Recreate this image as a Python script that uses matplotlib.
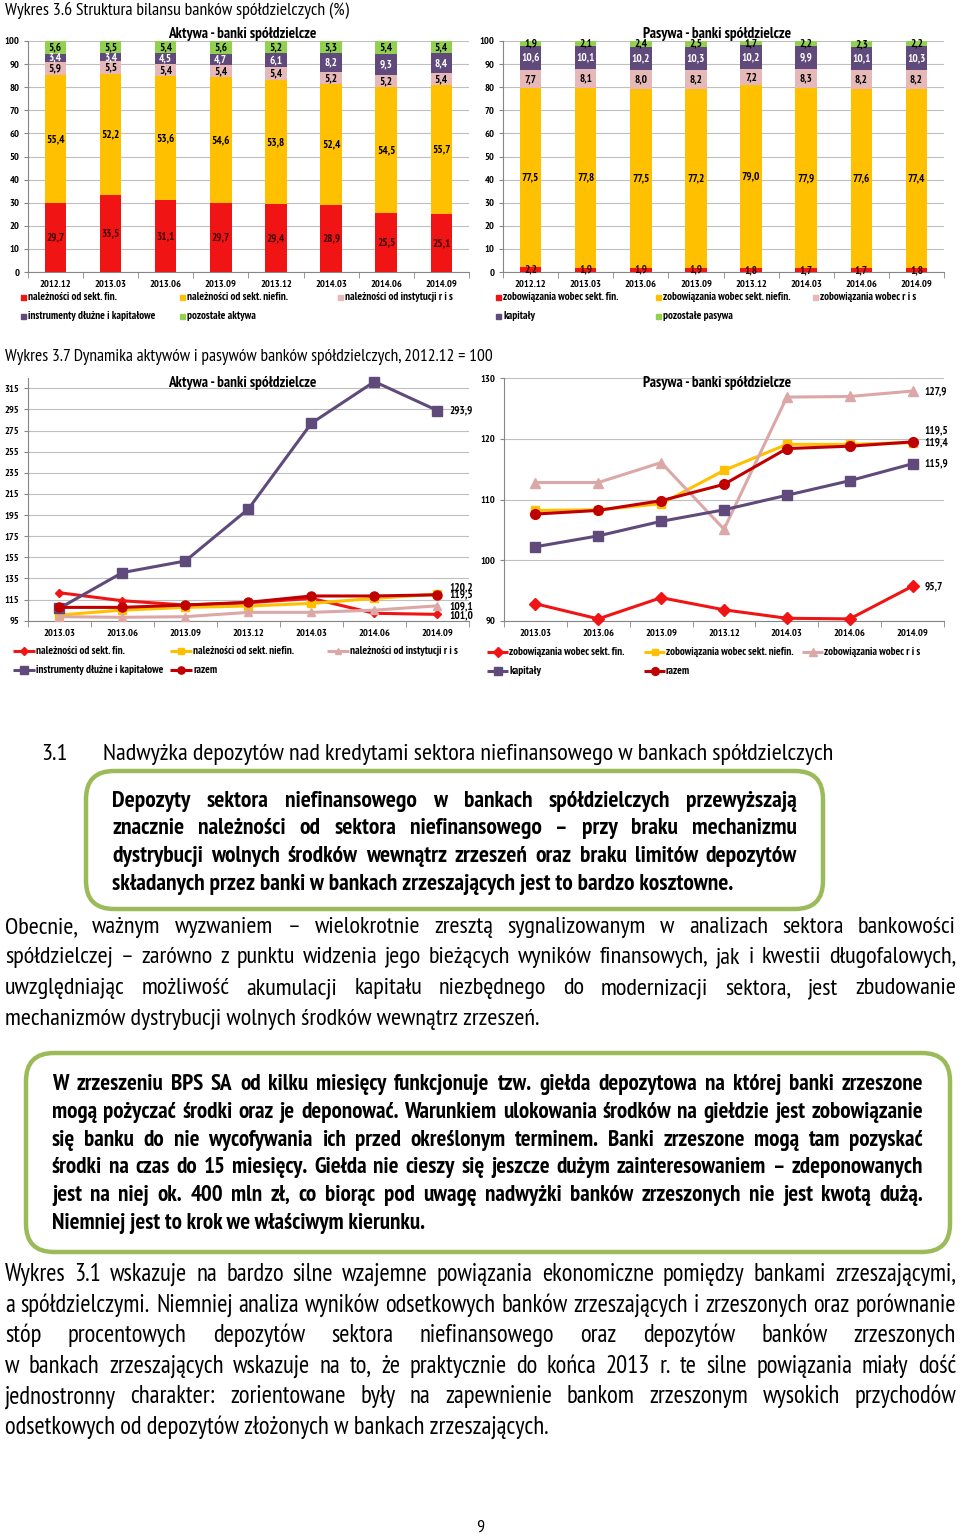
import matplotlib
matplotlib.use('Agg')
import matplotlib.pyplot as plt
from matplotlib import font_manager as fm
from matplotlib.font_manager import FontProperties
from matplotlib.patches import FancyBboxPatch, Rectangle
import numpy as np

# pick a narrow sans (the page is set in Arial Narrow) that has regular and bold faces
weights = {}
for f in fm.fontManager.ttflist:
    weights.setdefault(f.name, set()).add(f.weight)
FAM = 'Liberation Sans'
for cand in ['Liberation Sans Narrow', 'Arial Narrow', 'PT Sans Narrow', 'Roboto Condensed',
             'Archivo Narrow', 'Fira Sans Condensed', 'IBM Plex Sans Condensed']:
    w = weights.get(cand, set())
    if any(x in w for x in (400, 'normal', 'regular')) and any(x in w for x in (700, 'bold')):
        FAM = cand
        break
plt.rcParams['font.family'] = [FAM, 'DejaVu Sans']

W, H = 960, 1540

# ---- data: Wykres 3.6 (structure, %)
bar_dates = ['2012.12', '2013.03', '2013.06', '2013.09', '2013.12', '2014.03', '2014.06', '2014.09']
akt_fin    = [29.7, 33.5, 31.1, 29.7, 29.4, 28.9, 25.5, 25.1]
akt_niefin = [55.4, 52.2, 53.6, 54.6, 53.8, 52.4, 54.5, 55.7]
akt_ris    = [5.9, 5.5, 5.4, 5.4, 5.4, 5.2, 5.2, 5.4]
akt_instr  = [3.4, 3.4, 4.5, 4.7, 6.1, 8.2, 9.3, 8.4]
akt_poz    = [5.6, 5.5, 5.4, 5.6, 5.2, 5.3, 5.4, 5.4]

pas_fin    = [2.2, 1.9, 1.9, 1.9, 1.8, 1.7, 1.7, 1.8]
pas_niefin = [77.5, 77.8, 77.5, 77.2, 79.0, 77.9, 77.6, 77.4]
pas_ris    = [7.7, 8.1, 8.0, 8.2, 7.2, 8.3, 8.2, 8.2]
pas_kap    = [10.6, 10.1, 10.2, 10.3, 10.2, 9.9, 10.1, 10.3]
pas_poz    = [1.9, 2.1, 2.4, 2.5, 1.7, 2.2, 2.3, 2.2]

akt_labels = ['należności od sekt. fin.', 'należności od sekt. niefin.', 'należności od instytucji r i s',
              'instrumenty dłużne i kapitałowe', 'pozostałe aktywa']
pas_labels = ['zobowiązania wobec sekt. fin.', 'zobowiązania wobec sekt. niefin.', 'zobowiązania wobec r i s',
              'kapitały', 'pozostałe pasywa']

# ---- data: Wykres 3.7 (dynamics, 2012.12 = 100)
line_dates = ['2013.03', '2013.06', '2013.09', '2013.12', '2014.03', '2014.06', '2014.09']
dyn_akt_fin    = [121.5, 113.9, 109.8, 112.0, 116.1, 102.0, 101.0]
dyn_akt_niefin = [100.4, 105.0, 107.6, 108.9, 111.4, 116.1, 120.2]
dyn_akt_ris    = [98.8, 98.2, 98.8, 102.9, 102.9, 105.0, 109.1]
dyn_akt_instr  = [106.7, 140.5, 151.5, 200.7, 281.9, 321.3, 293.9]
dyn_akt_razem  = [107.6, 107.6, 109.8, 112.4, 118.4, 118.4, 119.5]

dyn_pas_fin    = [92.8, 90.3, 93.8, 91.8, 90.4, 90.3, 95.7]
dyn_pas_niefin = [108.2, 108.3, 109.3, 114.8, 119.1, 119.1, 119.4]
dyn_pas_ris    = [112.8, 112.8, 116.1, 105.1, 126.9, 127.0, 127.9]
dyn_pas_kap    = [102.2, 104.0, 106.4, 108.3, 110.7, 113.1, 115.9]
dyn_pas_razem  = [107.6, 108.2, 109.8, 112.5, 118.4, 118.8, 119.5]

dyn_akt_labels = akt_labels[:4] + ['razem']
dyn_pas_labels = pas_labels[:4] + ['razem']

RED, YEL, PINK, PURP, GRN, DRED = '#F01414', '#FFC000', '#E6B9B8', '#604A7B', '#92D050', '#C00000'
bar_colors = [RED, YEL, PINK, PURP, GRN]
bar_lab_colors = ['#3A0000', 'black', 'black', 'white', 'black']

fig = plt.figure(figsize=(W / 100, H / 100), dpi=100)
renderer = fig.canvas.get_renderer()


def fp(size, weight='normal'):
    return FontProperties(family=[FAM, 'DejaVu Sans'], size=size, weight=weight)


def text_px(s, prop):
    return renderer.get_text_width_height_descent(s, prop, ismath=False)[0]


def fit(s, target, weight='normal'):
    return 12 * target / text_px(s, fp(12, weight))


def px_axes(x0, y0, x1, y1):
    return fig.add_axes([x0 / W, 1 - y1 / H, (x1 - x0) / W, (y1 - y0) / H])


def fmt(v):
    return f'{v:.1f}'.replace('.', ',')


def common(ax, ylim, yticks, ncat):
    ax.set_xlim(-0.5, ncat - 0.5)
    ax.set_ylim(*ylim)
    ax.set_yticks(yticks)
    ax.yaxis.grid(True, color='#BFBFBF', lw=0.8)
    ax.set_axisbelow(True)
    for s in ['top', 'right']:
        ax.spines[s].set_visible(False)
    for s in ['left', 'bottom']:
        ax.spines[s].set_color('#868686')
    ax.set_xticks(np.arange(-0.5, ncat), minor=True)
    ax.tick_params(axis='x', which='major', length=0, pad=6, labelsize=7.5)
    ax.tick_params(axis='x', which='minor', length=4, color='#868686')
    ax.tick_params(axis='y', length=3, color='#868686', pad=3, labelsize=7.5)
    for lab in ax.get_xticklabels() + ax.get_yticklabels():
        lab.set_fontweight('bold')
    ax.set_facecolor('white')


def bar_chart(rect, series):
    ax = px_axes(*rect)
    x = np.arange(len(bar_dates))
    bottom = np.zeros(len(x))
    for vals, c, lc in zip(series, bar_colors, bar_lab_colors):
        bars = ax.bar(x, vals, 0.39, bottom=bottom, color=c, zorder=3)
        txts = ax.bar_label(bars, labels=[fmt(v) for v in vals], label_type='center',
                            fontsize=8, fontweight='bold', color=lc)
        for t in txts:
            t.set_zorder(6)
        bottom += np.array(vals)
    ax.set_xticks(x, bar_dates)
    common(ax, (0, 100), range(0, 101, 10), len(x))
    return ax


def line_chart(rect, series, styles, ylim, yticks, offsets):
    ax = px_axes(*rect)
    x = np.arange(len(line_dates))
    for vals, st, off in zip(series, styles, offsets):
        ax.plot(x, vals, color=st['c'], lw=2.2, marker=st['m'], ms=st['ms'],
                zorder=3, clip_on=False)
        ax.annotate(fmt(vals[-1]), (x[-1], vals[-1]), xytext=(12, off), textcoords='offset pixels',
                    va='center', ha='left', fontsize=8, fontweight='bold')
    ax.set_xticks(x, line_dates)
    common(ax, ylim, yticks, len(x))
    return ax


bar_chart((27.7, 41, 469, 272), [akt_fin, akt_niefin, akt_ris, akt_instr, akt_poz])
bar_chart((503, 41, 944, 272), [pas_fin, pas_niefin, pas_ris, pas_kap, pas_poz])

sty_akt = [dict(c=RED, m='D', ms=4.5), dict(c=YEL, m='s', ms=5.5), dict(c='#DCA8A7', m='^', ms=6),
           dict(c=PURP, m='s', ms=7.5), dict(c=DRED, m='o', ms=6.5)]
sty_pas = [dict(c=RED, m='D', ms=6), dict(c=YEL, m='s', ms=6), dict(c='#DCA8A7', m='^', ms=7),
           dict(c=PURP, m='s', ms=7.5), dict(c=DRED, m='o', ms=7)]

line_chart((27.7, 377.7, 469, 620.7),
           [dyn_akt_fin, dyn_akt_niefin, dyn_akt_ris, dyn_akt_instr, dyn_akt_razem],
           sty_akt, (95, 325), range(95, 316, 20), [-1, 7, -1, 0, 0])
line_chart((504, 378.3, 944, 620.7),
           [dyn_pas_fin, dyn_pas_niefin, dyn_pas_ris, dyn_pas_kap, dyn_pas_razem],
           sty_pas, (90, 130), range(90, 131, 10), [0, 0, 0, 0, 12])

# ---- page overlay (pixel coordinates, y down)
page = fig.add_axes([0, 0, 1, 1], facecolor='none')
page.set_xlim(0, W)
page.set_ylim(H, 0)
page.axis('off')

t1 = 'Wykres 3.6 Struktura bilansu banków spółdzielczych (%)'
page.text(5, 10, t1, fontsize=fit(t1, 344), va='center')
t2 = 'Wykres 3.7 Dynamika aktywów i pasywów banków spółdzielczych, 2012.12 = 100'
page.text(5, 357, t2, fontsize=fit(t2, 487), va='center')

ct1 = 'Aktywa - banki spółdzielcze'
ct2 = 'Pasywa - banki spółdzielcze'
cs = fit(ct1, 149, 'bold')
for (cx, cy, s) in [(242, 34, ct1), (717, 34, ct2), (242, 383, ct1), (717, 383, ct2)]:
    page.text(cx, cy, s, ha='center', va='center', fontsize=cs, fontweight='bold')


def legend_box(x, y, color, label):
    page.add_patch(Rectangle((x - 2.5, y - 2.5), 5, 5, color=color))
    page.text(x + 5, y, label, va='center', fontsize=8, fontweight='bold')


def legend_line(x0, x1, y, st, label):
    page.plot([x0, x1], [y, y], color=st['c'], lw=2.2, solid_capstyle='butt')
    page.plot([(x0 + x1) / 2], [y], marker=st['m'], ms=st['ms'] * 0.8, color=st['c'])
    page.text(x1 + 1, y, label, va='center', fontsize=8, fontweight='bold')


pos_l = [(23, 297), (182, 297), (340, 297), (23, 316), (182, 316)]
pos_r = [(498, 297), (658, 297), (815, 297), (498, 316), (658, 316)]
for (x, y), c, lab in zip(pos_l, bar_colors, akt_labels):
    legend_box(x, y, c, lab)
for (x, y), c, lab in zip(pos_r, bar_colors, pas_labels):
    legend_box(x, y, c, lab)

lpos_l = [(13, 651), (170, 651), (327, 651), (13, 670), (170, 670)]
lpos_r = [(487, 652), (644, 652), (802, 652), (487, 671), (644, 671)]
for (x, y), st, lab in zip(lpos_l, sty_akt, dyn_akt_labels):
    legend_line(x, x + 22, y, st, lab)
for (x, y), st, lab in zip(lpos_r, sty_pas, dyn_pas_labels):
    legend_line(x, x + 21, y, st, lab)


def justify(lines, x0, x1, y0, dy, size, weight='normal'):
    prop = fp(size, weight)
    em = size * 100 / 72
    sp = text_px('a a', prop) - text_px('aa', prop)
    for i, line in enumerate(lines):
        y = y0 + i * dy + 0.32 * em
        words = line.split()
        if i == len(lines) - 1:
            page.text(x0, y, line, fontproperties=prop, va='baseline')
            continue
        widths = [text_px(w, prop) for w in words]
        gap = max((x1 - x0 - sum(widths)) / (len(words) - 1), 0.6 * sp)
        x = x0
        for w, wd in zip(words, widths):
            page.text(x, y, w, fontproperties=prop, va='baseline')
            x += wd + gap


head = 'Nadwyżka depozytów nad kredytami sektora niefinansowego w bankach spółdzielczych'
hs = fit(head, 733)
page.text(41, 752 + 0.32 * hs * 100 / 72, '3.1', fontsize=hs, va='baseline')
page.text(103, 752 + 0.32 * hs * 100 / 72, head, fontsize=hs, va='baseline')

box1 = ['Depozyty sektora niefinansowego w bankach spółdzielczych przewyższają',
        'znacznie należności od sektora niefinansowego – przy braku mechanizmu',
        'dystrybucji wolnych środków wewnątrz zrzeszeń oraz braku limitów depozytów',
        'składanych przez banki w bankach zrzeszających jest to bardzo kosztowne.']
par1 = ['Obecnie, ważnym wyzwaniem – wielokrotnie zresztą sygnalizowanym w analizach sektora bankowości',
        'spółdzielczej – zarówno z punktu widzenia jego bieżących wyników finansowych, jak i kwestii długofalowych,',
        'uwzględniając możliwość akumulacji kapitału niezbędnego do modernizacji sektora, jest zbudowanie',
        'mechanizmów dystrybucji wolnych środków wewnątrz zrzeszeń.']
box2 = ['W zrzeszeniu BPS SA od kilku miesięcy funkcjonuje tzw. giełda depozytowa na której banki zrzeszone',
        'mogą pożyczać środki oraz je deponować. Warunkiem ulokowania środków na giełdzie jest zobowiązanie',
        'się banku do nie wycofywania ich przed określonym terminem. Banki zrzeszone mogą tam pozyskać',
        'środki na czas do 15 miesięcy. Giełda nie cieszy się jeszcze dużym zainteresowaniem – zdeponowanych',
        'jest na niej ok. 400 mln zł, co biorąc pod uwagę nadwyżki banków zrzeszonych nie jest kwotą dużą.',
        'Niemniej jest to krok we właściwym kierunku.']
par2 = ['Wykres 3.1 wskazuje na bardzo silne wzajemne powiązania ekonomiczne pomiędzy bankami zrzeszającymi,',
        'a spółdzielczymi. Niemniej analiza wyników odsetkowych banków zrzeszających i zrzeszonych oraz porównanie',
        'stóp procentowych depozytów sektora niefinansowego oraz depozytów banków zrzeszonych',
        'w bankach zrzeszających wskazuje na to, że praktycznie do końca 2013 r. te silne powiązania miały dość',
        'jednostronny charakter: zorientowane były na zapewnienie bankom zrzeszonym wysokich przychodów',
        'odsetkowych od depozytów złożonych w bankach zrzeszających.']

for (bx0, by0, bx1, by1) in [(86, 771, 823, 909), (26, 1053, 950, 1252)]:
    page.add_patch(FancyBboxPatch((bx0, by0), bx1 - bx0, by1 - by0,
                                  boxstyle='round,pad=0,rounding_size=28',
                                  fc='white', ec='#9BBB59', lw=3.2, zorder=1))

justify(box1, 112, 797, 799, 27.8, fit(box1[-1], 619, 'bold'), 'bold')
justify(par1, 5, 956, 925, 30.7, fit(par1[-1], 535))
justify(box2, 52, 923, 1083, 27.7, fit(box2[-1], 371, 'bold'), 'bold')
justify(par2, 5, 956, 1273, 30.6, fit(par2[-1], 544))

page.text(480, 1528, '9', fontsize=13, ha='center', va='center')

fig.savefig('out.png', dpi=100)
